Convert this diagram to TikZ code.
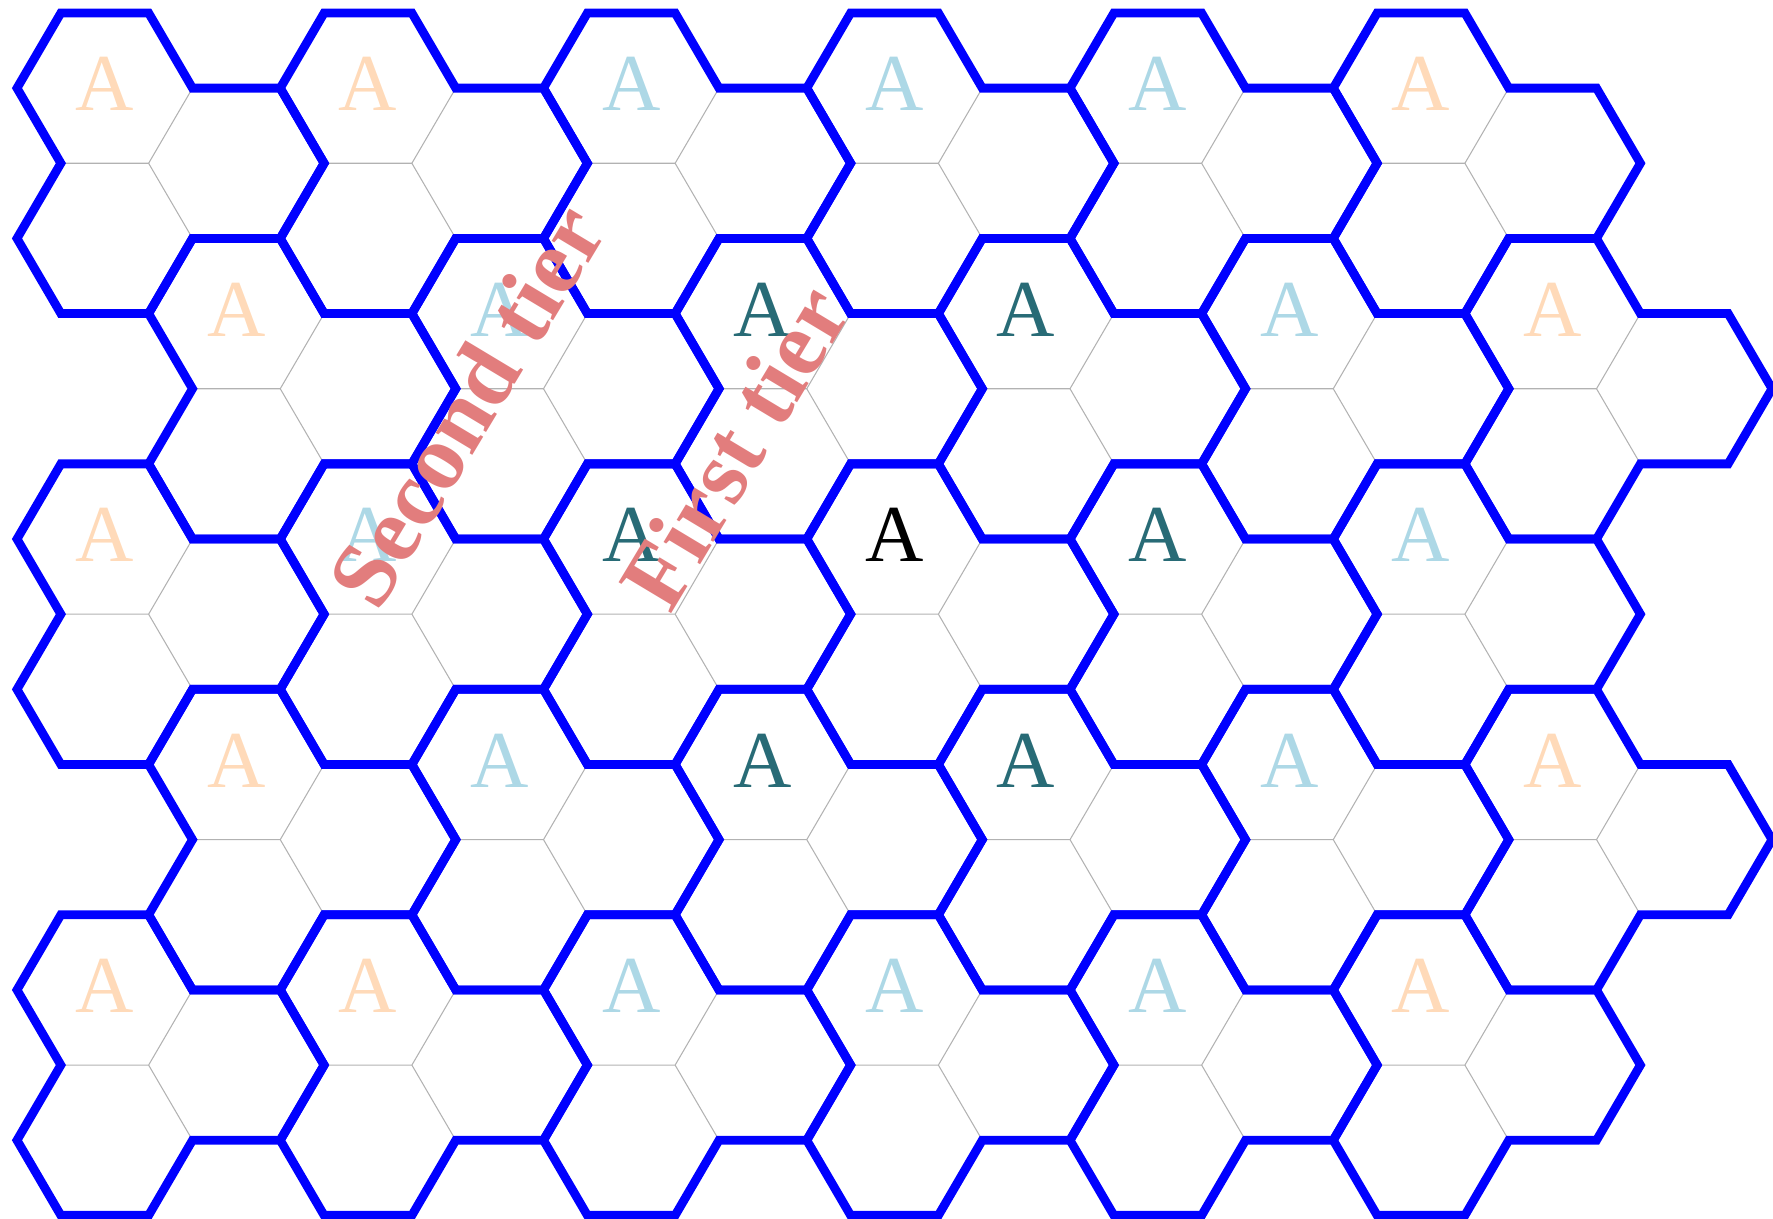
\documentclass[tikz,border=0pt]{standalone}
\usepackage{fontspec}
\setmainfont{Liberation Serif}
\definecolor{tierzero}{RGB}{0,0,0}
\definecolor{tierone}{RGB}{40,107,118}
\definecolor{tiertwo}{RGB}{173,216,230}
\definecolor{tierthree}{RGB}{255,218,185}
\definecolor{tiertext}{RGB}{226,125,125}
\tikzset{
  outline/.style={blue, line width=2.5pt},
  inner/.style={gray!60, line width=0.3pt},
  cellA/.style={font=\fontsize{23}{28}\selectfont, inner sep=0pt},
  tierlabel/.style={text=tiertext, font=\bfseries\fontsize{26.5}{32}\selectfont, inner sep=0pt, rotate=59}
}
% side of a cell and half its height
\def\hs{0.8775}
\def\hh{0.7515}
% column / half-row of each A cell, and its colour
\def\clusters{0/0/tierthree, 2/0/tierthree, 4/0/tiertwo, 6/0/tiertwo, 8/0/tiertwo, 10/0/tierthree,
  1/3/tierthree, 3/3/tiertwo, 5/3/tierone, 7/3/tierone, 9/3/tiertwo, 11/3/tierthree,
  0/6/tierthree, 2/6/tiertwo, 4/6/tierone, 6/6/tierzero, 8/6/tierone, 10/6/tiertwo,
  1/9/tierthree, 3/9/tiertwo, 5/9/tierone, 7/9/tierone, 9/9/tiertwo, 11/9/tierthree,
  0/12/tierthree, 2/12/tierthree, 4/12/tiertwo, 6/12/tiertwo, 8/12/tiertwo, 10/12/tierthree}
\begin{document}
\begin{tikzpicture}
  \useasboundingbox (0,0) rectangle (17.73,12.19);

  % thin edges between the three cells of a cluster
  \foreach \c/\j/\col in \clusters {
    \begin{scope}[shift={({1.0475+1.31625*\c},{11.3085-0.7515*\j})}]
      \draw[inner] (-0.5*\hs,-\hh) -- (0.5*\hs,-\hh) -- (\hs,0);
      \draw[inner] (0.5*\hs,-\hh) -- (\hs,-2*\hh);
    \end{scope}
  }

  % cluster outlines and the A cells
  \foreach \c/\j/\col in \clusters {
    \begin{scope}[shift={({1.0475+1.31625*\c},{11.3085-0.7515*\j})}]
      \draw[outline] (-0.5*\hs,\hh) -- (0.5*\hs,\hh) -- (\hs,0) -- (2*\hs,0)
        -- (2.5*\hs,-\hh) -- (2*\hs,-2*\hh) -- (\hs,-2*\hh) -- (0.5*\hs,-3*\hh)
        -- (-0.5*\hs,-3*\hh) -- (-\hs,-2*\hh) -- (-0.5*\hs,-\hh) -- (-\hs,0) -- cycle;
      \node[cellA, text=\col] (A-\c-\j) at (0,0.04) {A};
    \end{scope}
  }

  % tier labels
  \node[tierlabel] (second) at (4.66,8.14) {Second tier};
  \node[tierlabel] (first) at (7.34,7.72) {First tier};
\end{tikzpicture}
\end{document}
